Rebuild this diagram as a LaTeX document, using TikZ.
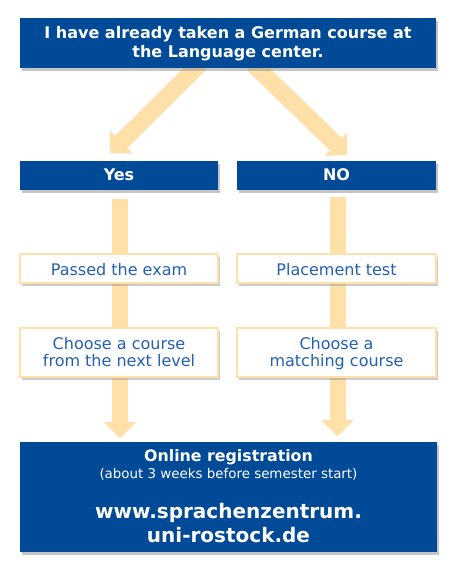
\documentclass[tikz,border=0pt]{standalone}
\usepackage{fontspec}
\setmainfont{DejaVu Sans}
\usetikzlibrary{arrows.meta,shadows}
\definecolor{dblue}{RGB}{0,74,152}
\definecolor{peach}{RGB}{255,224,168}
\definecolor{tblue}{RGB}{36,96,178}
\tikzset{
  bluebox/.style={draw=none,fill=dblue,text=white,font=\bfseries,align=center,inner sep=0pt,
    drop shadow={shadow xshift=2pt,shadow yshift=-3pt,fill=black!45,opacity=.5}},
  whitebox/.style={draw=peach,line width=1.2pt,fill=white,text=tblue,align=center,inner sep=0pt,
    drop shadow={shadow xshift=2pt,shadow yshift=-3pt,fill=black!45,opacity=.45}},
  fatarrow/.style={draw=peach,line width=16pt,-{Triangle[width=32pt,length=16pt]}},
  fatshadow/.style={draw=black!30,opacity=.35,line width=16pt,-{Triangle[width=32pt,length=16pt]}},
  diagarrow/.style={draw=peach,line width=17pt,-{Triangle[width=31pt,length=15.5pt]}},
  diagshadow/.style={draw=black!30,opacity=.35,line width=17pt,-{Triangle[width=31pt,length=15.5pt]}},
  wtext/.style={text=white,inner sep=0pt,anchor=base},
  btext/.style={text=tblue,inner sep=0pt,anchor=base,font=\fontsize{16}{19}\selectfont}
}
\begin{document}
\begin{tikzpicture}[x=1pt,y=-1pt]
\useasboundingbox (0,0) rectangle (454,567);
% arrows (behind boxes)
\coordinate (la0) at (200,64);
\coordinate (la1) at (110,153);
\coordinate (ra0) at (253,64);
\coordinate (ra1) at (347,155);
\coordinate (lv0) at (120,199);
\coordinate (lv1) at (120,438);
\coordinate (rv0) at (337.5,197);
\coordinate (rv1) at (337.5,436);
\begin{scope}[shift={(2,2)}]
\draw[diagshadow] (la0) -- (la1);
\draw[diagshadow] (ra0) -- (ra1);
\draw[fatshadow] (lv0) -- (lv1);
\draw[fatshadow] (rv0) -- (rv1);
\end{scope}
\draw[diagarrow] (la0) -- (la1);
\draw[diagarrow] (ra0) -- (ra1);
\draw[fatarrow] (lv0) -- (lv1);
\draw[fatarrow] (rv0) -- (rv1);
% boxes
\node[bluebox,minimum width=416pt,minimum height=50pt] (top) at (228,43) {};
\node[bluebox,minimum width=198pt,minimum height=29pt] (yes) at (119,175.5) {};
\node[bluebox,minimum width=199pt,minimum height=29pt] (no) at (336.5,175.5) {};
\node[whitebox,minimum width=198pt,minimum height=29pt] (passed) at (119,268.5) {};
\node[whitebox,minimum width=199pt,minimum height=29pt] (place) at (336.5,268.5) {};
\node[whitebox,minimum width=198pt,minimum height=49pt] (chl) at (119,352.5) {};
\node[whitebox,minimum width=199pt,minimum height=49pt] (chr) at (336.5,352.5) {};
\node[bluebox,minimum width=417pt,minimum height=110pt] (reg) at (228.5,497) {};
% texts
\node[wtext,font=\bfseries\fontsize{16}{19}\selectfont] (top1) at (228,39) {I have already taken a German course at};
\node[wtext,font=\bfseries\fontsize{16}{19}\selectfont] (top2) at (228,58) {the Language center.};
\node[wtext,font=\bfseries\fontsize{16}{19}\selectfont] (yest) at (119,180.5) {Yes};
\node[wtext,font=\bfseries\fontsize{16}{19}\selectfont] (not) at (336.5,180.5) {NO};
\node[btext] (passedt) at (119,275) {Passed the exam};
\node[btext] (placet) at (336.5,275) {Placement test};
\node[btext] (chl1) at (119,349.3) {Choose a course};
\node[btext] (chl2) at (119,366.8) {from the next level};
\node[btext] (chr1) at (336.5,349.3) {Choose a};
\node[btext] (chr2) at (336.5,366.8) {matching course};
\node[wtext,font=\bfseries\fontsize{15.8}{19}\selectfont] (regt) at (228.5,461.5) {Online registration};
\node[wtext,font=\fontsize{13.4}{16}\selectfont] (regs) at (228.5,478.5) {(about 3 weeks before semester start)};
\node[wtext,font=\bfseries\fontsize{20}{24}\selectfont] (url1) at (228.5,518) {www.sprachenzentrum.};
\node[wtext,font=\bfseries\fontsize{20}{24}\selectfont] (url2) at (228.5,542) {uni-rostock.de};
\end{tikzpicture}
\end{document}
